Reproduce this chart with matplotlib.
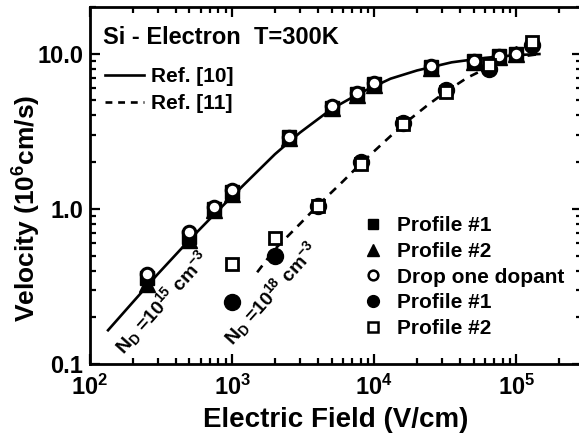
import numpy as np
import matplotlib
matplotlib.use("Agg")
import matplotlib.pyplot as plt
from matplotlib.lines import Line2D
from matplotlib.ticker import LogLocator, FixedLocator, FixedFormatter, NullFormatter

plt.rcParams["font.family"] = "Liberation Sans"
plt.rcParams["font.weight"] = "bold"
plt.rcParams["mathtext.fontset"] = "custom"
plt.rcParams["mathtext.rm"] = "Liberation Sans:bold"
plt.rcParams["mathtext.it"] = "Liberation Sans:bold"
plt.rcParams["mathtext.bf"] = "Liberation Sans:bold"
plt.rcParams["mathtext.default"] = "rm"

# Ref. [10] curve, N_D = 1e15 cm^-3
ref10_E = [134, 200, 300, 500, 800, 1200, 2000, 3000, 5000, 8000, 13000, 20000, 35000, 60000, 100000, 145000]
ref10_v = [0.165, 0.25, 0.38, 0.63, 0.98, 1.42, 2.25, 3.1, 4.4, 5.6, 6.9, 7.8, 8.8, 9.4, 9.8, 9.95]

# Ref. [11] curve, N_D = 1e18 cm^-3
ref11_E = [1500, 2000, 3000, 4000, 6000, 8000, 12000, 16000, 24000, 32000, 45000, 64000, 100000, 145000]
ref11_v = [0.39, 0.55, 0.80, 1.05, 1.5, 1.95, 2.75, 3.5, 4.7, 5.7, 7.0, 8.2, 9.5, 9.95]

# simulated points, low doping
E_low = [250, 500, 750, 1000, 2500, 5000, 7500, 10000, 25000, 50000, 75000, 100000]
v_prof1 = [0.36, 0.66, 1.0, 1.28, 2.9, 4.5, 5.5, 6.4, 8.2, 9.0, 9.6, 10.0]
v_prof2 = [0.33, 0.63, 0.98, 1.25, 2.85, 4.45, 5.4, 6.3, 8.1, 8.9, 9.5, 9.9]
v_drop = [0.38, 0.71, 1.03, 1.33, 2.9, 4.6, 5.6, 6.5, 8.3, 9.0, 9.6, 10.0]

# simulated points, high doping
E_high = [1000, 2000, 4000, 8000, 16000, 32000, 64000, 128000]
v_hi_prof1 = [0.25, 0.50, 1.05, 2.0, 3.6, 5.8, 8.0, 11.4]
v_hi_prof2 = [0.44, 0.65, 1.05, 1.95, 3.5, 5.7, 8.4, 11.9]

fig = plt.figure(figsize=(5.79, 4.38), dpi=100)
# right spine sits just past the edge of the figure
ax = fig.add_axes([0.1554, 0.169, 0.849, 0.815])

dash = (0, (3.2, 2.6))
ax.plot(ref10_E, ref10_v, "k-", lw=1.9)
ax.plot(ref11_E, ref11_v, color="k", lw=1.9, linestyle=dash)

ax.plot(E_low, v_prof1, "ks", ms=10, ls="none")
ax.plot(E_low, v_prof2, "k^", ms=11, ls="none")
ax.plot(E_low, v_drop, "o", ms=9, mfc="white", mec="k", mew=2.2, ls="none")
ax.plot(E_high, v_hi_prof1, "ko", ms=11.5, ls="none")
ax.plot(E_high, v_hi_prof2, "s", ms=8.5, mfc="white", mec="k", mew=2, ls="none")

ax.set_xscale("log")
ax.set_yscale("log")
ax.set_xlim(100, 2.87e5)
ax.set_ylim(0.1, 20)

ax.xaxis.set_major_locator(FixedLocator([1e2, 1e3, 1e4, 1e5]))
ax.xaxis.set_major_formatter(FixedFormatter([r"$10^{2}$", r"$10^{3}$", r"$10^{4}$", r"$10^{5}$"]))
ax.xaxis.set_minor_locator(LogLocator(base=10, subs=np.arange(2, 10)))
ax.xaxis.set_minor_formatter(NullFormatter())
ax.yaxis.set_major_locator(FixedLocator([0.1, 1, 10]))
ax.yaxis.set_major_formatter(FixedFormatter(["0.1", "1.0", "10.0"]))
ax.yaxis.set_minor_locator(LogLocator(base=10, subs=np.arange(2, 10)))
ax.yaxis.set_minor_formatter(NullFormatter())

ax.tick_params(which="both", direction="in", top=True, right=True, width=1.6)
ax.tick_params(which="major", length=7, labelsize=17)
ax.tick_params(which="minor", length=4)
ax.tick_params(axis="x", which="major", pad=8)
ax.tick_params(axis="y", which="major", pad=5)
for s in ax.spines.values():
    s.set_linewidth(2)

ax.set_xlabel("Electric Field (V/cm)", fontsize=20, fontweight="bold", labelpad=5)
fig.text(0.047, 0.525, r"Velocity (10$^{6}$cm/s)", fontsize=19, fontweight="bold",
         rotation=90, ha="center", va="center")

ax.text(0.026, 0.915, "Si - Electron  T=300K", transform=ax.transAxes,
        fontsize=17, fontweight="bold", ha="left", va="center")

ax.text(322, 0.248, r"N$_{D}$ =10$^{15}$ cm$^{-3}$", fontsize=14, rotation=48,
        rotation_mode="anchor", ha="center", va="center")
ax.text(1890, 0.284, r"N$_{D}$ =10$^{18}$ cm$^{-3}$", fontsize=14, rotation=48,
        rotation_mode="anchor", ha="center", va="center")

line_handles = [
    Line2D([], [], color="k", lw=1.9),
    Line2D([], [], color="k", lw=1.9, linestyle=(0, (2.6, 2.2))),
]
leg1 = ax.legend(line_handles, ["Ref. [10]", "Ref. [11]"], loc="upper left",
                 bbox_to_anchor=(-0.008, 0.885), frameon=False, fontsize=15,
                 handlelength=1.9, handletextpad=0.3, labelspacing=0.4)
ax.add_artist(leg1)

marker_handles = [
    Line2D([], [], marker="s", color="k", ls="none", ms=7),
    Line2D([], [], marker="^", color="k", ls="none", ms=8.5),
    Line2D([], [], marker="o", mfc="white", mec="k", mew=1.8, ls="none", ms=7),
    Line2D([], [], marker="o", color="k", ls="none", ms=8.5),
    Line2D([], [], marker="s", mfc="white", mec="k", mew=1.8, ls="none", ms=7),
]
ax.legend(marker_handles, ["Profile #1", "Profile #2", "Drop one dopant", "Profile #1", "Profile #2"],
          loc="lower left", bbox_to_anchor=(0.52, 0.02), frameon=False, fontsize=15,
          handlelength=0.8, handletextpad=0.75, labelspacing=0.32)

fig.savefig("out.png", dpi=100)
